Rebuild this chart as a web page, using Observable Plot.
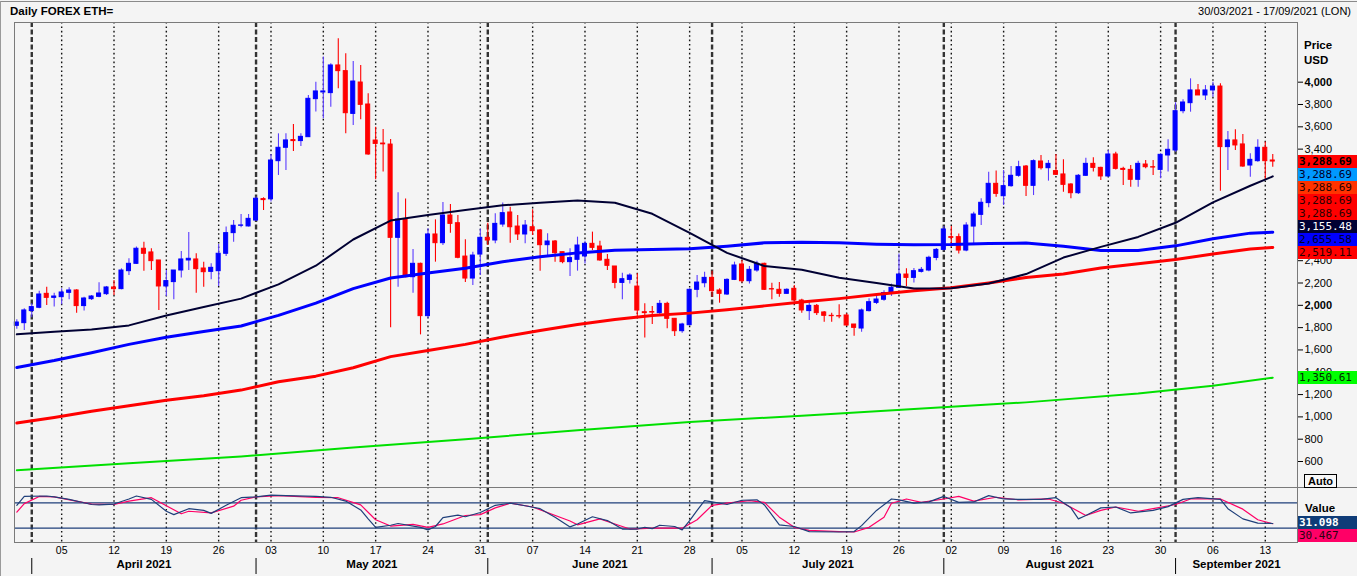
<!DOCTYPE html>
<html><head><meta charset="utf-8">
<script src="https://cdn.jsdelivr.net/npm/d3@7"></script>
<script src="https://cdn.jsdelivr.net/npm/@observablehq/plot@0.6"></script>
<style>
html,body{margin:0;padding:0;background:#f4f4f4;}
#wrap{position:relative;width:1357px;height:576px;overflow:hidden;background:#f4f4f4;font-family:"Liberation Sans",Arial,sans-serif;color:#000;}
#wrap svg{position:absolute;left:0;}
.lbl{position:absolute;white-space:nowrap;}
.box{position:absolute;left:1298px;width:59px;height:13px;line-height:13px;font-family:"DejaVu Sans Mono",monospace;font-size:11px;padding-left:1px;box-sizing:border-box;white-space:nowrap;}
</style></head><body>
<div id="wrap"></div>
<script>
// ---------------- DATA ----------------
const startDate = "2021-03-30";           // first daily bar
const endDate = "2021-09-17";             // end of displayed range
const titleText = "Daily FOREX ETH=";
const rangeText = "30/03/2021 - 17/09/2021 (LON)";

// daily OHLC, one value per calendar day from 30/03/2021
const opens = [1816,1840,1948,1978,2103,2067,2073,2112,2133,1993,
2055,2076,2100,2160,2145,2306,2372,2507,2474,2402,
2169,2208,2312,2402,2411,2330,2300,2306,2462,2647,
2713,2707,2760,2952,2950,3292,3412,3481,3472,3507,
3848,3908,3902,4150,4099,3716,3997,3800,3477,3450,
3441,2605,2769,2252,2372,1903,2635,2557,2805,2736,
2437,2240,2455,2605,2581,2724,2832,2706,2635,2700,
2671,2539,2572,2476,2387,2408,2438,2551,2527,2408,
2348,2201,2228,2168,1938,1940,1930,2013,1879,1768,
1822,2139,2198,2246,2133,2097,2228,2366,2216,2312,
2372,2145,2139,2103,2148,2043,1948,1995,1936,1906,
1903,1909,1828,1792,1948,2022,2050,2110,2157,2276,
2246,2300,2312,2425,2497,2611,2611,2491,2706,2811,
2916,3089,2978,3068,3161,3244,3071,3289,3229,3203,
3173,3083,3005,3161,3268,3232,3155,3352,3223,3214,
3125,3262,3238,3214,3343,3388,3740,3812,3926,3881,
3926,3961,3418,3478,3442,3253,3292,3412,3298];
const highs = [1870,1969,2013,2127,2163,2109,2148,2157,2139,2073,
2088,2202,2169,2223,2327,2417,2522,2566,2507,2402,
2312,2312,2483,2653,2462,2387,2372,2545,2701,2761,
2814,2814,2970,2964,3352,3537,3537,3621,3537,3881,
4000,4225,4165,4389,4254,4185,4150,3896,3597,3576,
3486,3008,2954,2500,2378,2686,2766,2922,2904,2805,
2587,2476,2683,2736,2820,2916,2880,2805,2760,2856,
2680,2641,2581,2476,2506,2611,2575,2656,2575,2455,
2348,2288,2282,2282,2013,1989,2043,2028,1879,1840,
2148,2267,2297,2306,2148,2237,2387,2402,2348,2396,
2378,2198,2204,2148,2178,2055,2028,2007,1945,1930,
2004,1924,1828,1968,2058,2094,2130,2190,2461,2327,
2330,2340,2440,2510,2706,2706,2640,2740,2835,2955,
3193,3203,3208,3244,3292,3253,3304,3343,3298,3352,
3304,3089,3173,3319,3322,3238,3388,3373,3238,3253,
3292,3298,3298,3358,3483,3815,3842,4030,3979,3970,
3999,3985,3558,3573,3531,3358,3483,3463,3352];
const lows = [1786,1774,1888,1969,1999,1984,2004,2049,1930,1948,
2043,2067,2088,2088,2139,2267,2366,2306,2312,1954,
2079,2049,2244,2312,2109,2163,2229,2169,2438,2566,
2695,2701,2754,2850,2925,3164,3209,3379,3424,3504,
3732,3672,3776,3941,3537,3612,3663,3346,3125,3194,
1798,2163,2246,2109,1735,1879,2387,2536,2647,2417,
2204,2177,2267,2536,2551,2700,2557,2581,2551,2626,
2306,2432,2387,2372,2258,2306,2370,2491,2396,2312,
2148,2049,2192,1900,1708,1828,1909,1789,1720,1750,
1816,2067,2157,2073,2019,2088,2222,2199,2192,2297,
2133,2049,2073,2097,2028,1930,1864,1909,1849,1849,
1879,1810,1723,1759,1939,2007,2037,2080,2150,2168,
2200,2290,2300,2400,2490,2521,2460,2480,2551,2715,
2874,2969,2895,3059,3149,2975,2984,3214,3113,3164,
3014,2955,2993,3155,3194,3119,3149,3214,3074,3059,
3059,3223,3164,3134,3194,3373,3717,3731,3881,3836,
3866,3023,3209,3388,3238,3149,3283,3119,3238];
const closes = [1846,1954,1984,2097,2067,2079,2115,2133,1993,2061,
2079,2106,2160,2145,2312,2372,2507,2462,2396,2169,
2217,2312,2411,2417,2324,2297,2336,2462,2647,2713,
2716,2775,2955,2943,3298,3412,3478,3472,3510,3851,
3917,3917,4150,4099,3722,4006,3797,3352,3447,3443,
2605,2769,2252,2372,1903,2635,2557,2805,2730,2426,
2240,2446,2605,2581,2730,2826,2700,2635,2715,2665,
2539,2572,2467,2387,2423,2536,2551,2515,2402,2354,
2201,2234,2267,1953,1930,1935,2013,1879,1768,1828,
2139,2204,2246,2127,2103,2228,2357,2216,2318,2372,
2139,2142,2103,2139,2043,1954,1995,1930,1906,1903,
1900,1819,1798,1954,2028,2052,2110,2157,2276,2246,
2306,2318,2426,2497,2680,2605,2491,2715,2814,2919,
3089,2999,3068,3161,3238,3071,3292,3229,3268,3170,
3080,3005,3161,3268,3232,3155,3352,3223,3214,3125,
3268,3238,3235,3349,3394,3740,3818,3926,3881,3926,
3961,3418,3478,3433,3244,3304,3412,3292,3288.69];

// moving averages, read at these day offsets from startDate
const maDays = [0,5,10,15,20,25,30,35,40,45,50,55,60,65,70,75,80,85,90,95,100,105,110,115,120,125,130,135,140,145,150,155,160,165,168];
const maBlack = [1740,1762,1783,1820,1909,1985,2060,2188,2355,2590,2760,2810,2855,2897,2920,2940,2920,2820,2650,2470,2352,2318,2248,2200,2150,2152,2195,2280,2428,2524,2613,2740,2922,3072,3155.48];
const maBlue = [1443,1505,1575,1650,1714,1765,1815,1910,2020,2150,2245,2290,2333,2390,2435,2470,2494,2500,2506,2530,2560,2565,2560,2548,2543,2545,2555,2558,2530,2492,2491,2533,2597,2647,2655.58];
const maRed = [945,995,1050,1100,1150,1190,1240,1315,1365,1440,1540,1595,1650,1716,1775,1828,1873,1908,1930,1960,1995,2030,2060,2097,2130,2157,2200,2250,2280,2335,2372,2410,2460,2505,2519.11];
const greenDays = [0,15,30,45,60,75,90,105,120,135,150,160,168];
const maGreen = [522,585,645,725,800,880,955,1010,1070,1130,1210,1280,1350.61];

// stochastic oscillator (%K, %D) at day offsets
const kDays = [0,1,4,5,7,10,11,13,15,16,18,20,21,23,25,26,28,30,32,34,36,40,42,44,46,47,48,50,51,54,55,56,57,59,60,62,64,66,68,70,72,74,75,77,79,81,83,84,85,86,88,89,90,91,92,93,95,97,99,100,102,104,106,110,112,113,115,117,118,120,122,124,126,128,130,132,134,137,139,141,142,143,145,147,149,152,154,156,158,161,162,164,166,168];
const kVals = [74,95,96,94,88,76,75,77,89,96,88,60,52,66,62,55,74,92,94,98,97,95,93,84,63,42,22,27,31,22,16,24,45,51,47,57,74,79,73,66,46,23,30,47,38,18,18,22,19,27,24,16,38,62,85,82,76,86,87,75,28,24,12,11,12,26,62,89,87,79,82,95,81,82,97,89,88,88,92,68,42,50,68,70,56,62,71,88,92,88,66,42,32,31.098];
const dDays = [0,1,3,5,10,13,15,18,20,22,23,26,29,30,32,35,40,43,46,48,50,53,55,57,60,62,64,66,69,74,75,78,80,82,85,89,91,93,95,98,100,102,104,106,110,112,114,116,117,119,121,124,126,128,131,134,138,140,143,145,147,150,152,155,157,161,164,166,168];
const dVals = [58,78,95,94,77,76,84,92,73,54,60,56,72,86,94,97,93,92,75,40,25,29,22,30,50,52,68,79,70,37,28,42,30,18,20,20,40,74,79,85,81,46,22,15,12,11,22,46,79,89,81,89,95,84,93,87,89,79,50,62,70,60,66,76,89,89,65,40,30.467];

const priceTicks = [600,800,1000,1200,1400,1600,1800,2000,2200,2400,2600,2800,3000,3200,3400,3600,3800,4000];
const boldTicks = [2000,4000];
const stochLevels = [20,80];
const monthNames = ["April 2021","May 2021","June 2021","July 2021","August 2021","September 2021"];
const monthStartStr = ["2021-04-01","2021-05-01","2021-06-01","2021-07-01","2021-08-01","2021-09-01"];

// ---------------- BUILD ----------------
const DAY = 864e5;
const t0 = new Date(startDate + "T00:00:00Z");
const tEnd = new Date(endDate + "T00:00:00Z");
const dayAt = d => new Date(+t0 + d * DAY);
const xDomain = [new Date(+t0 - 0.31 * DAY), new Date(+tEnd + 0.31 * DAY)];
const yDomain = [367, 4535];
const H1 = 487, MT1 = 22;

const candles = opens.map((o, i) => ({date: dayAt(i), open: o, high: highs[i], low: lows[i], close: closes[i]}));
const up = d => d.close >= d.open;
const bodyColor = d => up(d) ? "#0000ff" : "#ff0000";
const wickColor = d => up(d) ? "#5a3cff" : "#ff0000";

const toSeries = (days, vals) => days.map((d, i) => ({date: dayAt(d), v: vals[i]}));
const sBlack = toSeries(maDays, maBlack), sBlue = toSeries(maDays, maBlue), sRed = toSeries(maDays, maRed), sGreen = toSeries(greenDays, maGreen);
const sK = toSeries(kDays, kVals), sD = toSeries(dDays, dVals);

const monthStarts = monthStartStr.map(s => new Date(s + "T00:00:00Z"));
const mondays = d3.utcMondays(xDomain[0], xDomain[1]);
const months = monthNames.map((name, i) => {
  const a = Math.max(+monthStarts[i], +xDomain[0]);
  const b = i + 1 < monthStarts.length ? +monthStarts[i + 1] : +xDomain[1];
  return {label: name, mid: new Date((a + b) / 2)};
});

// value boxes on the price axis: last close (stacked with the MA values) and the green MA
const lastClose = closes[closes.length - 1];
const stack = [
  {v: lastClose, bg: "#ff0000", fg: "#000", bold: true},
  {v: lastClose, bg: "#0099ff", fg: "#00002a"},
  {v: lastClose, bg: "#ff3300", fg: "#2a0000"},
  {v: lastClose, bg: "#ff0000", fg: "#2a0000"},
  {v: lastClose, bg: "#ff0000", fg: "#2a0000"},
  {v: maBlack[maBlack.length - 1], bg: "#000033", fg: "#ffffff"},
  {v: maBlue[maBlue.length - 1], bg: "#0000ff", fg: "#00002a"},
  {v: maRed[maRed.length - 1], bg: "#ff0000", fg: "#2a0000"}
];
// pixel position of a price (same linear mapping Plot will use) to hide tick labels fully covered by boxes
const yLin = d3.scaleLinear(yDomain, [H1, MT1]);
const stackTop = yLin(lastClose) - 6.5, stackBot = stackTop + stack.length * 13;
const visibleTicks = priceTicks.filter(t => { const y = yLin(t); return !(y > stackTop + 5 && y < stackBot - 5); });

const W = 1357, ML = 14, MR = 60;
const common = {width: W, marginLeft: ML, marginRight: MR, style: {background: "transparent", fontFamily: "Liberation Sans, Arial, sans-serif", fontSize: "11px", color: "#000", overflow: "visible"}};

const price = Plot.plot({
  ...common,
  height: H1, marginTop: MT1, marginBottom: 0,
  x: {type: "utc", domain: xDomain, axis: null},
  y: {domain: yDomain, axis: null},
  marks: [
    Plot.ruleX(mondays, {stroke: "#111", strokeWidth: 1.4, strokeDasharray: "1.6,2.8"}),
    Plot.ruleX(monthStarts, {stroke: "#333", strokeWidth: 2.4, strokeDasharray: "5,2.5"}),
    Plot.ruleX(candles, {x: "date", y1: "low", y2: "high", stroke: wickColor, strokeWidth: 1.1}),
    Plot.rect(candles, {x1: d => new Date(+d.date - 0.27 * DAY), x2: d => new Date(+d.date + 0.27 * DAY), y1: "open", y2: "close", fill: bodyColor, stroke: bodyColor, strokeWidth: 1}),
    Plot.line(sGreen, {x: "date", y: "v", stroke: "#00e000", strokeWidth: 2}),
    Plot.line(sRed, {x: "date", y: "v", stroke: "#ff0000", strokeWidth: 3}),
    Plot.line(sBlue, {x: "date", y: "v", stroke: "#0000ff", strokeWidth: 3}),
    Plot.line(sBlack, {x: "date", y: "v", stroke: "#000033", strokeWidth: 2}),
    Plot.axisY({anchor: "right", ticks: visibleTicks.filter(t => !boldTicks.includes(t)), tickFormat: d3.format(","), tickSize: 5, tickPadding: 2, fontSize: 11, fill: "#000", stroke: "#000"}),
    Plot.axisY({anchor: "right", ticks: boldTicks, tickFormat: d3.format(","), tickSize: 5, tickPadding: 2, fontSize: 11, fontWeight: "bold", fill: "#000", stroke: "#000"}),
    Plot.frame({stroke: "#7a7a7a"})
  ]
});

const stoch = Plot.plot({
  ...common,
  height: 89, marginTop: 0, marginBottom: 34,
  x: {type: "utc", domain: xDomain, axis: null},
  y: {domain: [-13.8, 116.1], axis: null},
  marks: [
    Plot.ruleX(mondays, {stroke: "#111", strokeWidth: 1.4, strokeDasharray: "1.6,2.8"}),
    Plot.ruleX(monthStarts, {stroke: "#333", strokeWidth: 2.4, strokeDasharray: "5,2.5"}),
    Plot.ruleY(stochLevels, {stroke: "#1f3f7a", strokeWidth: 1.2}),
    Plot.line(sD, {x: "date", y: "v", stroke: "#ff0066", strokeWidth: 1.2}),
    Plot.line(sK, {x: "date", y: "v", stroke: "#1f3f7a", strokeWidth: 1.2}),
    Plot.axisX({ticks: mondays, tickFormat: d3.utcFormat("%d"), tickSize: 0, tickPadding: 4, fontSize: 10.5, fill: "#000"}),
    Plot.text(months, {x: "mid", text: "label", frameAnchor: "bottom", dy: 25, fontWeight: "bold", fontSize: 11.5, fill: "#000"}),
    Plot.ruleX(monthStarts, {stroke: "#000", strokeWidth: 1, insetTop: 71, insetBottom: -32}),
    Plot.frame({stroke: "#7a7a7a"})
  ]
});

const wrap = document.getElementById("wrap");
price.style.top = "0px";
stoch.style.top = H1 + "px";
wrap.append(price, stoch);

function addDiv(cls, text, css) {
  const el = document.createElement("div");
  el.className = cls;
  el.textContent = text;
  Object.assign(el.style, css);
  wrap.append(el);
  return el;
}
// frame lines of the window
addDiv("lbl", "", {left: "0px", top: "1px", width: W + "px", height: "1px", background: "#8a8a8a"});
addDiv("lbl", "", {left: "0px", top: "1px", width: "1px", height: "575px", background: "#9a9a9a"});
addDiv("lbl", "", {left: "1297px", top: H1 + "px", width: "60px", height: "1px", background: "#7a7a7a"});

addDiv("lbl", titleText, {left: "10px", top: "5px", fontWeight: "bold", fontSize: "11.5px"});
addDiv("lbl", rangeText, {right: "6px", top: "5px", fontSize: "11px"});
addDiv("lbl", "Price", {left: "1304px", top: "39px", fontWeight: "bold", fontSize: "11.5px"});
addDiv("lbl", "USD", {left: "1304px", top: "54px", fontWeight: "bold", fontSize: "11.5px"});

const fmt2 = d3.format(",.2f");
const yP = price.scale("y");
const yTop = yP.apply(lastClose) - 6.5;
stack.forEach((b, i) => {
  addDiv("box", fmt2(b.v), {top: (yTop + i * 13) + "px", background: b.bg, color: b.fg, fontWeight: b.bold ? "bold" : "normal"});
});
addDiv("box", fmt2(maGreen[maGreen.length - 1]), {top: (yP.apply(maGreen[maGreen.length - 1]) - 6.5) + "px", background: "#00ff00", color: "#002a00"});

addDiv("lbl", "Auto", {left: "1304px", top: "474px", width: "31px", height: "12px", lineHeight: "12px", border: "1px solid #000", fontWeight: "bold", fontSize: "11px", textAlign: "center", background: "#f8f8f8"});

const yS = stoch.scale("y");
const kLast = kVals[kVals.length - 1], dLast = dVals[dVals.length - 1];
const kTop = H1 + yS.apply(kLast) - 6.5;
addDiv("lbl", "Value", {left: "1305px", top: (kTop - 14) + "px", fontWeight: "bold", fontSize: "11.5px", lineHeight: "13px"});
addDiv("box", d3.format(".3f")(kLast), {top: kTop + "px", background: "#0f3c78", color: "#fff", fontWeight: "bold"});
addDiv("box", d3.format(".3f")(dLast), {top: (kTop + 13) + "px", background: "#ff0066", color: "#2a0010"});
</script>
</body></html>
